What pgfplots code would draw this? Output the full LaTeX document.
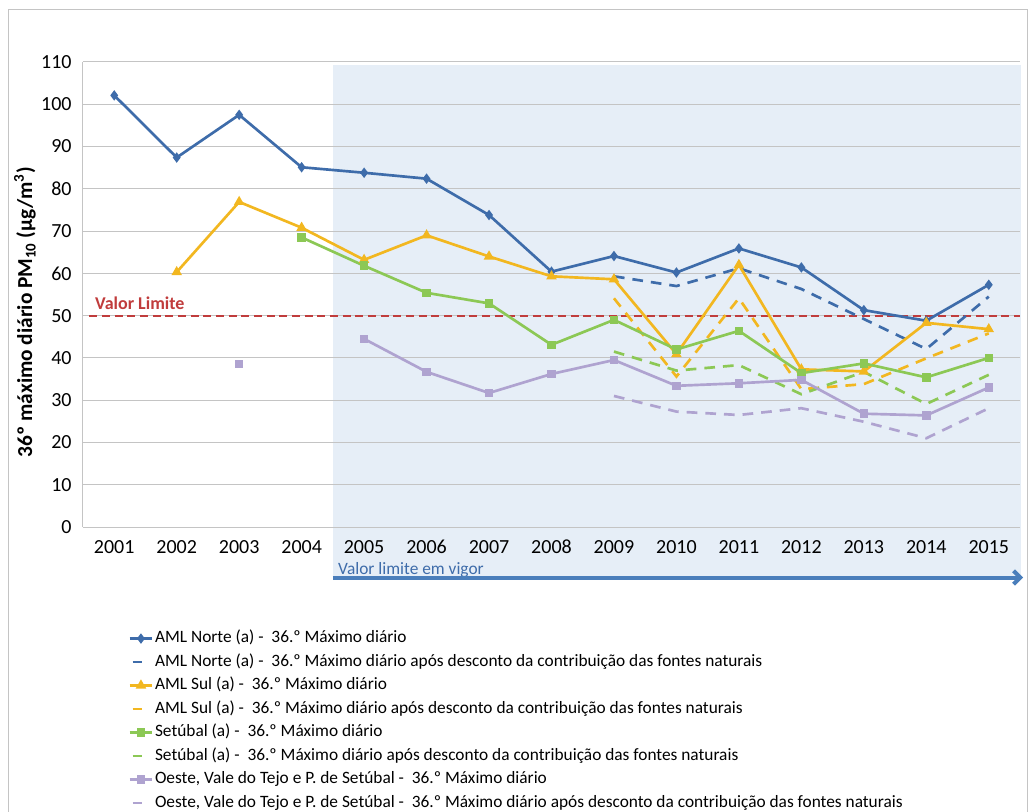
\documentclass[border=0pt]{standalone}
\usepackage{fontspec}
\setmainfont{Carlito}
\usepackage{pgfplots}
\pgfplotsset{compat=1.18}
\usetikzlibrary{arrows.meta}
\definecolor{cblue}{RGB}{62,108,170}
\definecolor{cgold}{RGB}{242,183,32}
\definecolor{cgreen}{RGB}{140,200,85}
\definecolor{cpurple}{RGB}{175,163,208}
\definecolor{cshade}{RGB}{230,238,247}
\definecolor{carrow}{RGB}{74,126,187}
\definecolor{climit}{RGB}{192,60,60}
\definecolor{cgrid}{RGB}{196,196,196}
\pgfplotsset{dashleg/.style={legend image code/.code={\draw[##1,solid] (0.08cm,0) -- (0.34cm,0);}}}
\begin{document}
\begin{tikzpicture}
\path[use as bounding box] (0pt,0pt) rectangle (771pt,608.25pt);
\draw[cgrid,line width=0.75pt] (6pt,-2pt) -- (6pt,600.75pt) -- (770.25pt,600.75pt) -- (770.25pt,-2pt);
\fill[cshade] (249.75pt,173.25pt) rectangle (765.75pt,559.5pt);
\begin{axis}[
  at={(62.25pt,213pt)}, anchor=south west,
  scale only axis, width=702.75pt, height=348.75pt,
  xmin=-0.5, xmax=14.5, ymin=0, ymax=110,
  xtick={0,...,14},
  xticklabels={2001,2002,2003,2004,2005,2006,2007,2008,2009,2010,2011,2012,2013,2014,2015},
  ytick={0,10,...,110},
  major tick length=0pt,
  axis x line*=bottom, axis y line*=left,
  axis line style={cgrid,line width=0.75pt,-},
  ymajorgrids, grid style={cgrid,line width=0.75pt},
  clip=false,
  unbounded coords=jump,
  /pgf/number format/assume math mode=true,
  tick label style={font=\fontsize{15}{17}\selectfont, text=black},
  xticklabel style={yshift=-6pt, anchor=north, text height=10pt, text depth=0pt},
  yticklabel style={xshift=-5pt},
  ylabel={\textbf{36º máximo diário PM\textsubscript{10} (µg/m\textsuperscript{3})}},
  ylabel style={font=\fontsize{16}{18}\selectfont, at={(axis description cs:-0.062,0.462)}, anchor=center},
  legend style={at={(axis description cs:0.048,-0.220)}, anchor=north west, draw=none, fill=none,
    font=\fontsize{13}{15}\selectfont, inner sep=0pt, row sep=4.1pt,
    nodes={inner xsep=1pt, inner ysep=0pt, text height=10pt, text depth=3.5pt}},
  legend cell align=left,
]
\addplot[climit, line width=1.5pt, dash pattern=on 6pt off 3.5pt, forget plot] coordinates {(-0.4,50) (14.5,50)};

\addplot[cblue, line width=2pt, mark=diamond*, mark size=2.3pt] coordinates {
(0,102.1) (1,87.4) (2,97.5) (3,85.1) (4,83.8) (5,82.4) (6,73.8) (7,60.4) (8,64.1) (9,60.2) (10,65.9) (11,61.4) (12,51.3) (13,48.8) (14,57.3)};
\addlegendentry{AML Norte (a) -\ \ 36.º Máximo diário}
\addplot[cblue, line width=2pt, dash pattern=on 8pt off 6pt, dashleg] coordinates {
(8,59.3) (9,57.0) (10,61.2) (11,56.3) (12,49.2) (13,42.1) (14,54.5)};
\addlegendentry{AML Norte (a) -\ \ 36.º Máximo diário após desconto da contribuição das fontes naturais}

\addplot[cgold, line width=2pt, mark=triangle*, mark size=2.6pt] coordinates {
(1,60.3) (2,76.9) (3,70.8) (4,63.2) (5,69.0) (6,64.0) (7,59.3) (8,58.6) (9,40.9) (10,62.0) (11,37.3) (12,36.8) (13,48.3) (14,46.8)};
\addlegendentry{AML Sul (a) -\ \ 36.º Máximo diário}
\addplot[cgold, line width=2pt, dash pattern=on 8pt off 6pt, dashleg] coordinates {
(8,54.1) (9,35.6) (10,54.1) (11,32.6) (12,33.8) (13,39.9) (14,45.8)};
\addlegendentry{AML Sul (a) -\ \ 36.º Máximo diário após desconto da contribuição das fontes naturais}

\addplot[cgreen, line width=2pt, mark=square*, mark size=2.2pt] coordinates {
(3,68.5) (4,61.8) (5,55.4) (6,52.9) (7,43.1) (8,49.0) (9,42.0) (10,46.4) (11,36.4) (12,38.7) (13,35.4) (14,40.0)};
\addlegendentry{Setúbal (a) -\ \ 36.º Máximo diário}
\addplot[cgreen, line width=2pt, dash pattern=on 8pt off 6pt, dashleg] coordinates {
(8,41.5) (9,37.0) (10,38.3) (11,31.4) (12,36.7) (13,29.1) (14,36.0)};
\addlegendentry{Setúbal (a) -\ \ 36.º Máximo diário após desconto da contribuição das fontes naturais}

\addplot[cpurple, line width=2pt, mark=square*, mark size=2.2pt] coordinates {
(2,38.6) (3,nan) (4,44.5) (5,36.7) (6,31.7) (7,36.2) (8,39.5) (9,33.4) (10,34.0) (11,34.8) (12,26.8) (13,26.4) (14,33.0)};
\addlegendentry{Oeste, Vale do Tejo e P. de Setúbal -\ \ 36.º Máximo diário}
\addplot[cpurple, line width=2pt, dash pattern=on 8pt off 6pt, dashleg] coordinates {
(8,31.0) (9,27.3) (10,26.5) (11,28.1) (12,24.9) (13,21.0) (14,28.1)};
\addlegendentry{Oeste, Vale do Tejo e P. de Setúbal -\ \ 36.º Máximo diário após desconto da contribuição das fontes naturais}

\node[anchor=west, text=climit, font=\fontsize{13.5}{16}\selectfont\bfseries, inner sep=0pt] at (axis cs:-0.31,53.0) {Valor Limite};
\node[anchor=base west, text=cblue, font=\fontsize{13}{15}\selectfont, inner sep=0pt] at (axis cs:3.58,-11.3) {Valor limite em vigor};
\draw[carrow, line width=3pt, -{Straight Barb[length=5pt,width=10pt]}] (axis cs:3.5,-11.95) -- (axis cs:14.55,-11.95);
\end{axis}
\end{tikzpicture}
\end{document}
